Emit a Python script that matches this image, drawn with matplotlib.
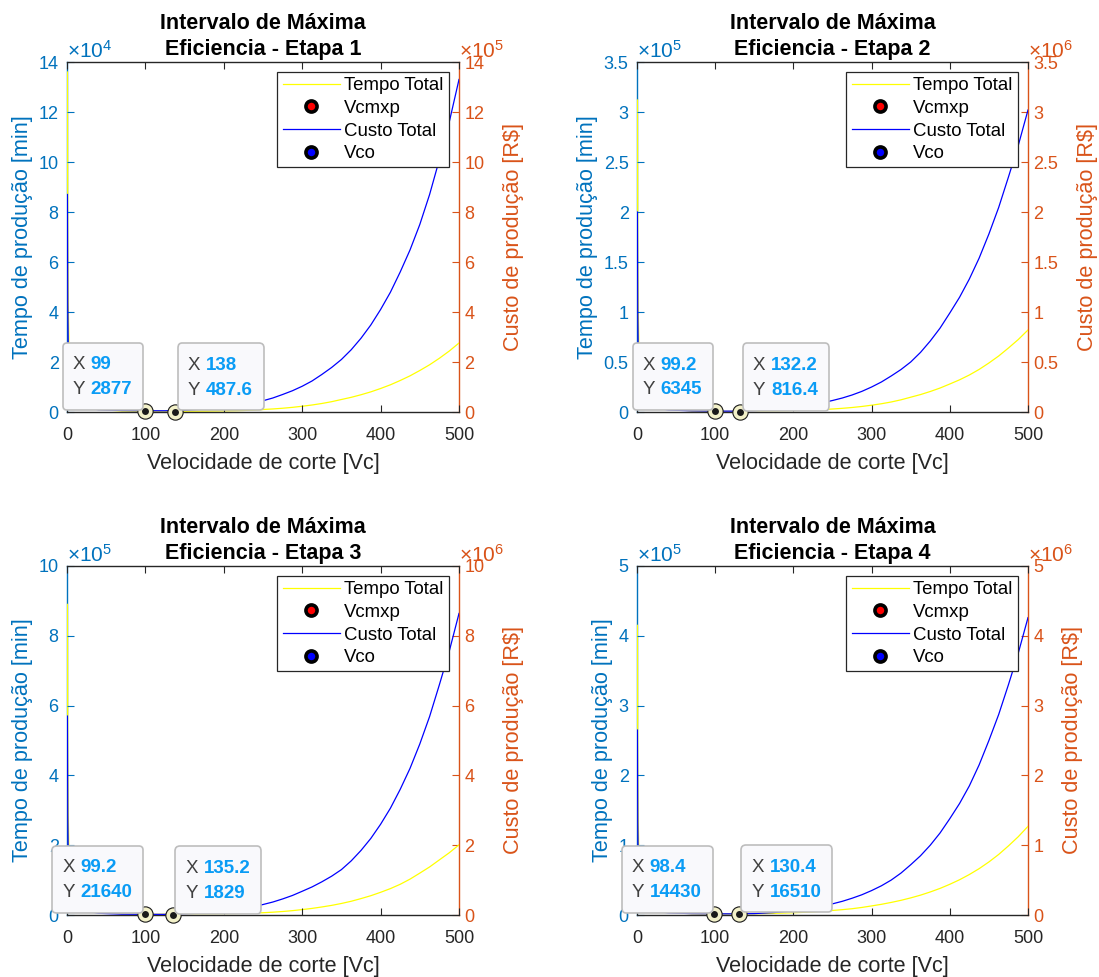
import matplotlib
matplotlib.use("Agg")
import matplotlib.pyplot as plt
import numpy as np
from matplotlib.ticker import FuncFormatter, MultipleLocator
from matplotlib.offsetbox import TextArea, HPacker, VPacker, AnnotationBbox, DrawingArea

plt.rcParams['font.family'] = ['Liberation Sans', 'DejaVu Sans']
plt.rcParams['mathtext.fontset'] = 'custom'
plt.rcParams['mathtext.rm'] = 'Liberation Sans'
plt.rcParams['mathtext.it'] = 'Liberation Sans:italic'
plt.rcParams['mathtext.bf'] = 'Liberation Sans:bold'

# velocidade de corte
vc = [0.5, 1, 1.5, 2.5, 5, 10, 20, 40, 70, 100, 125, 150, 175,
      200, 212.5, 225, 237.5, 250, 262.5, 275, 287.5, 300, 312.5, 325, 337.5,
      350, 362.5, 375, 387.5, 400, 412.5, 425, 437.5, 450, 462.5, 475, 487.5, 500]

# tempo total (right axis units: x10^5, x10^6, x10^6, x10^6)
tempo_1 = [13.6, 6.8, 4.5, 2.7, 1.36, 0.68, 0.34, 0.1, 0.04, 0.029, 0.029, 0.03, 0.035,
           0.045, 0.052, 0.06, 0.077, 0.10, 0.122, 0.15, 0.186, 0.23, 0.28, 0.34, 0.412,
           0.50, 0.587, 0.69, 0.805, 0.94, 1.088, 1.26, 1.446, 1.66, 1.889, 2.15, 2.436, 2.76]
tempo_2 = [3.12, 1.56, 1.04, 0.62, 0.31, 0.16, 0.08, 0.03, 0.01, 0.0064, 0.0068, 0.008, 0.01,
           0.014, 0.0167, 0.02, 0.0245, 0.03, 0.0367, 0.045, 0.0553, 0.068, 0.0825, 0.10, 0.1217,
           0.148, 0.1742, 0.205, 0.2396, 0.28, 0.3219, 0.37, 0.4258, 0.49, 0.56, 0.64, 0.7244, 0.82]
tempo_3 = [8.9, 4.45, 2.97, 1.78, 0.89, 0.45, 0.22, 0.08, 0.03, 0.0216, 0.022, 0.023, 0.026,
           0.033, 0.0385, 0.045, 0.0541, 0.065, 0.0806, 0.10, 0.1245, 0.155, 0.1888, 0.23, 0.2755,
           0.33, 0.3938, 0.47, 0.5527, 0.65, 0.7563, 0.88, 1.0276, 1.2, 1.377, 1.58, 1.782, 2.01]
tempo_4 = [4.15, 2.08, 1.38, 0.83, 0.42, 0.21, 0.1, 0.04, 0.018, 0.0145, 0.0155, 0.018, 0.024,
           0.032, 0.0379, 0.045, 0.0541, 0.065, 0.0765, 0.09, 0.1082, 0.13, 0.153, 0.18, 0.21,
           0.245, 0.2843, 0.33, 0.381, 0.44, 0.5052, 0.58, 0.6639, 0.76, 0.8674, 0.99, 1.1213, 1.27]

# custo total (left axis units: x10^4, x10^5, x10^5, x10^5)
custo_1 = [8.7, 4.35, 2.9, 1.74, 0.87, 0.44, 0.2, 0.09, 0.06, 0.05, 0.049, 0.07, 0.12,
           0.19, 0.24, 0.30, 0.37, 0.45, 0.56, 0.70, 0.85, 1.03, 1.24, 1.5, 1.78,
           2.1, 2.49, 2.95, 3.48, 4.1, 4.79, 5.6, 6.48, 7.5, 8.7, 10.1, 11.59, 13.3]
custo_2 = [2.0, 1.0, 0.67, 0.4, 0.2, 0.1, 0.05, 0.02, 0.012, 0.009, 0.0085, 0.012, 0.025,
           0.045, 0.0581, 0.075, 0.0929, 0.115, 0.1398, 0.17, 0.2062, 0.25, 0.30, 0.36, 0.4243,
           0.50, 0.5958, 0.71, 0.8384, 0.99, 1.1475, 1.33, 1.5386, 1.78, 2.0453, 2.35, 2.664, 3.02]
custo_3 = [5.7, 2.85, 1.9, 1.14, 0.57, 0.28, 0.14, 0.05, 0.025, 0.02, 0.0185, 0.03, 0.06,
           0.11, 0.1446, 0.19, 0.2387, 0.30, 0.3715, 0.46, 0.5593, 0.68, 0.8037, 0.95, 1.1113,
           1.3, 1.5508, 1.85, 2.1932, 2.6, 3.0594, 3.6, 4.2, 4.9, 5.6868, 6.6, 7.5514, 8.64]
custo_4 = [2.65, 1.33, 0.88, 0.53, 0.27, 0.13, 0.065, 0.03, 0.02, 0.017, 0.0165, 0.02, 0.035,
           0.06, 0.0775, 0.10, 0.1265, 0.16, 0.196, 0.24, 0.2898, 0.35, 0.4183, 0.5, 0.60,
           0.72, 0.8485, 1.0, 1.1747, 1.38, 1.5978, 1.85, 2.1506, 2.5, 2.8723, 3.3, 3.7494, 4.26]

# pontos otimos (datatips)
vcmxp_x = [99, 99.2, 99.2, 98.4]
vcmxp_y = [2877, 6345, 21640, 14430]
vco_x = [138, 132.2, 135.2, 130.4]
vco_y = [487.6, 816.4, 1829, 16510]

# eixos
ymax_left = [14, 3.5, 10, 5]
ystep = [2, 0.5, 2, 1]
exp_left = [4, 5, 5, 5]
exp_right = [5, 6, 6, 6]

tempos = [tempo_1, tempo_2, tempo_3, tempo_4]
custos = [custo_1, custo_2, custo_3, custo_4]

C_LEFT = '#0072BD'
C_RIGHT = '#D95319'
C_AX = '#262626'
C_TIP = '#0a9cf5'

W, H = 1099, 977
fig = plt.figure(figsize=(W / 100, H / 100), dpi=100)
boxes = [(67, 62, 459, 412), (637, 62, 1028, 412),
         (67, 566, 459, 915), (637, 566, 1028, 915)]


def datatip(ax, trans, x, y, right):
    tp = dict(color='#404040', size=13.5)
    vp = dict(color=C_TIP, size=13.5, weight='bold')
    r1 = HPacker(children=[TextArea('X', textprops=tp), TextArea(f'{x:g}', textprops=vp)],
                 sep=4, pad=0, align='baseline')
    r2 = HPacker(children=[TextArea('Y', textprops=tp), TextArea(f'{y:g}', textprops=vp)],
                 sep=4, pad=0, align='baseline')
    rows = VPacker(children=[r1, r2], sep=5.4, pad=0, align='left')
    mid = HPacker(children=[DrawingArea(7.2, 0), rows, DrawingArea(7.9, 0)],
                  sep=0, pad=0, align='center')
    box = VPacker(children=[DrawingArea(0, 9.8), mid, DrawingArea(0, 8.6)],
                  sep=0, pad=0, align='left')
    if right:
        align, off = (0, 0), (1.8, 1)
    else:
        align, off = (1, 0), (-1, 1)
    ab = AnnotationBbox(box, (x, y), xycoords=trans, xybox=off, boxcoords='offset points',
                        box_alignment=align, pad=0, frameon=True, annotation_clip=False,
                        bboxprops=dict(boxstyle='round,pad=0,rounding_size=0.3',
                                       fc='#f9f9fc', ec='#bdbdbd', lw=1.2),
                        zorder=8)
    ax.add_artist(ab)


for i in range(4):
    x0, y0, x1, y1 = boxes[i]
    ax = fig.add_axes([x0 / W, 1 - y1 / H, (x1 - x0) / W, (y1 - y0) / H])
    ax2 = ax.twinx()
    ax.set_zorder(ax2.get_zorder() + 1)
    ax.patch.set_visible(False)

    sl = 10 ** exp_left[i]
    sr = 10 ** exp_right[i]
    l_tempo, = ax2.plot(vc, np.array(tempos[i]) * sr, color='#ffff00', lw=0.9, zorder=3)
    l_custo, = ax.plot(vc, np.array(custos[i]) * sl, color='#0000ff', lw=0.9, zorder=3)
    m_vcmxp, = ax2.plot([vcmxp_x[i]], [vcmxp_y[i]], 'o', ms=8, mfc='red', mec='black', mew=2.6)
    m_vco, = ax2.plot([vco_x[i]], [vco_y[i]], 'o', ms=8, mfc='blue', mec='black', mew=2.6)

    # datatip markers
    for xx, yy in [(vcmxp_x[i], vcmxp_y[i]), (vco_x[i], vco_y[i])]:
        ax.plot([xx], [yy], 'o', transform=ax2.transData, ms=11, mfc='#f3f1c9',
                mec='#1a1a1a', mew=0.8, zorder=6, clip_on=False)
        ax.plot([xx], [yy], 'o', transform=ax2.transData, ms=5, mfc='#1a1a1a',
                mec='#1a1a1a', mew=0, zorder=7, clip_on=False)

    ax.set_xlim(0, 500)
    ax.set_ylim(0, ymax_left[i] * sl)
    ax2.set_ylim(0, ymax_left[i] * sr)
    ax.xaxis.set_major_locator(MultipleLocator(100))
    ax.yaxis.set_major_locator(MultipleLocator(ystep[i] * sl))
    ax2.yaxis.set_major_locator(MultipleLocator(ystep[i] * sr))
    ax.yaxis.set_major_formatter(FuncFormatter(lambda v, _, s=sl: f'{v / s:g}'))
    ax2.yaxis.set_major_formatter(FuncFormatter(lambda v, _, s=sr: f'{v / s:g}'))

    ax.xaxis.set_ticks_position('both')
    ax.tick_params(axis='x', direction='in', length=5, colors=C_AX, labelsize=13, pad=11)
    ax.tick_params(axis='y', direction='in', length=5, colors=C_LEFT, labelsize=13, pad=6,
                   right=False)
    ax2.tick_params(axis='y', direction='in', length=5, colors=C_RIGHT, labelsize=13, pad=4)

    # left spine lives on the lower axes so the lines sit on top of it
    ax.spines['right'].set_visible(False)
    ax.spines['left'].set_visible(False)
    ax.spines['top'].set_color(C_AX)
    ax.spines['bottom'].set_color(C_AX)
    ax2.spines['right'].set_color(C_RIGHT)
    ax2.spines['left'].set_visible(True)
    ax2.spines['left'].set_color(C_LEFT)
    ax2.spines['top'].set_visible(False)
    ax2.spines['bottom'].set_visible(False)
    for s in list(ax.spines.values()) + list(ax2.spines.values()):
        s.set_linewidth(1.0)

    ax.text(0, 1.0, r'$\times10^{%d}$' % exp_left[i], transform=ax.transAxes,
            ha='left', va='bottom', color=C_LEFT, fontsize=15)
    ax2.text(1, 1.0, r'$\times10^{%d}$' % exp_right[i], transform=ax2.transAxes,
             ha='left', va='bottom', color=C_RIGHT, fontsize=15)

    ax.set_title(f'Intervalo de Máxima\nEficiencia - Etapa {i + 1}', fontsize=15.5,
                 fontweight='bold', pad=5, color='black', linespacing=1.3)
    ax.set_xlabel('Velocidade de corte [Vc]', fontsize=15.6, color=C_AX, labelpad=6)
    ax.set_ylabel('Tempo de produção [min]', fontsize=15.6, color=C_LEFT, labelpad=4)
    ax2.set_ylabel('Custo de produção [R$]', fontsize=15.6, color=C_RIGHT, labelpad=13)

    leg = ax.legend([l_tempo, m_vcmxp, l_custo, m_vco],
                    ['Tempo Total', 'Vcmxp', 'Custo Total', 'Vco'],
                    loc='upper right', fontsize=13.4, fancybox=False, framealpha=1,
                    edgecolor=C_AX, borderaxespad=0.54, handlelength=3.1,
                    handletextpad=0.22, labelspacing=0.3, borderpad=0.28, numpoints=1)
    leg.get_frame().set_linewidth(0.9)
    leg.set_zorder(10)

    datatip(ax, ax2.transData, vcmxp_x[i], vcmxp_y[i], False)
    datatip(ax, ax2.transData, vco_x[i], vco_y[i], True)

fig.savefig('out.png', dpi=100, facecolor='white')
